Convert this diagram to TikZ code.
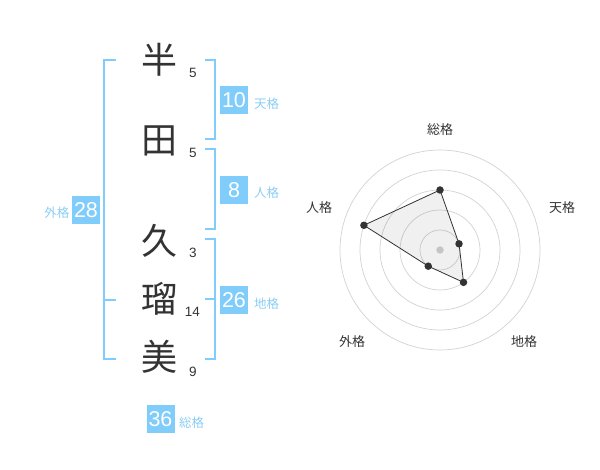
\documentclass[tikz,border=0pt]{standalone}
\usepackage{fontspec}
\setmainfont{Liberation Sans}
\newfontfamily\jp{Noto Sans CJK JP}
\definecolor{kakublue}{RGB}{128,204,250}
\definecolor{kakulabel}{RGB}{140,205,245}
\definecolor{inkgray}{RGB}{51,51,51}
\definecolor{ringgray}{RGB}{210,210,210}
\tikzset{
  kanji/.style={inner sep=0pt, text=inkgray, font=\jp\fontsize{36}{36}\selectfont},
  strokes/.style={inner sep=0pt, text=inkgray, font=\fontsize{13.5}{13.5}\selectfont},
  kakubox/.style={fill=kakublue, text=white, minimum size=28pt, inner sep=0pt, font=\fontsize{21.5}{21.5}\selectfont},
  kakuname/.style={inner sep=0pt, text=kakulabel, font=\jp\fontsize{12.5}{12.5}\selectfont},
  bracket/.style={draw=kakublue, line width=2pt},
  radarname/.style={inner sep=0pt, text=inkgray, font=\jp\fontsize{13}{13}\selectfont},
  radardot/.style={circle, fill=inkgray, inner sep=0pt, minimum size=7.5pt}
}

\begin{document}
\begin{tikzpicture}[x=1pt, y=-1pt]
    \useasboundingbox (0,0) rectangle (600,470);

    \node[kanji] (han) at (159,60) {半};
    \node[kanji] (ta) at (159,141) {田};
    \node[kanji] (ku) at (159,241) {久};
    \node[kanji] (ru) at (159,299) {瑠};
    \node[kanji] (mi) at (159,357) {美};

    \node[strokes] (hann) at (193,72.5) {5};
    \node[strokes] (tan) at (193,153) {5};
    \node[strokes] (kun) at (193,252.5) {3};
    \node[strokes] (run) at (192.5,312) {14};
    \node[strokes] (min) at (193,372) {9};

    \draw[bracket] (116,60) -- (104,60) -- (104,359) -- (116,359)
    (104,300) -- (116,300);
    \draw[bracket] (205,60) -- (215,60) -- (215,139) -- (205,139);
    \draw[bracket] (205,149) -- (215,149) -- (215,229) -- (205,229);
    \draw[bracket] (205,239) -- (215,239) -- (215,359) -- (205,359)
    (205,299) -- (215,299);

    \node[kakubox] (ten) at (234,100) {10};
    \node[kakubox] (jin) at (234,190) {8};
    \node[kakubox] (chi) at (234,300) {26};
    \node[kakubox] (gai) at (86,210) {28};
    \node[kakubox] (sou) at (160.5,419) {36};

    \node[kakuname, anchor=west] (tenl) at (254,104) {天格};
    \node[kakuname, anchor=west] (jinl) at (254,193) {人格};
    \node[kakuname, anchor=west] (chil) at (254,304) {地格};
    \node[kakuname, anchor=east] (gail) at (69.5,213) {外格};
    \node[kakuname, anchor=west] (soul) at (179,423) {総格};

    \begin{scope}[shift={(440,250)}]
      \foreach \r in {20,40,60,80,100}
        \draw[ringgray, line width=0.7pt] (0,0) circle (\r);
      \node[circle, fill=ringgray, inner sep=0pt, minimum size=7.5pt] (c) at (0,0) {};
      \coordinate (psou) at (-90:60);
      \coordinate (pten) at (-18:20);
      \coordinate (pchi) at (54:40);
      \coordinate (pgai) at (126:20);
      \coordinate (pjin) at (-162:80);
      \draw[inkgray, line width=0.8pt, fill=black, fill opacity=0.06]
      (psou) -- (pten) -- (pchi) -- (pgai) -- (pjin) -- cycle;
      \foreach \p in {psou,pten,pchi,pgai,pjin}
        \node[radardot] at (\p) {};
    \end{scope}

    \node[radarname] (rsou) at (440,130) {総格};
    \node[radarname] (rten) at (562,208) {天格};
    \node[radarname] (rchi) at (524,342) {地格};
    \node[radarname] (rgai) at (352,342) {外格};
    \node[radarname] (rjin) at (319,208) {人格};
  \end{tikzpicture}
\end{document}
